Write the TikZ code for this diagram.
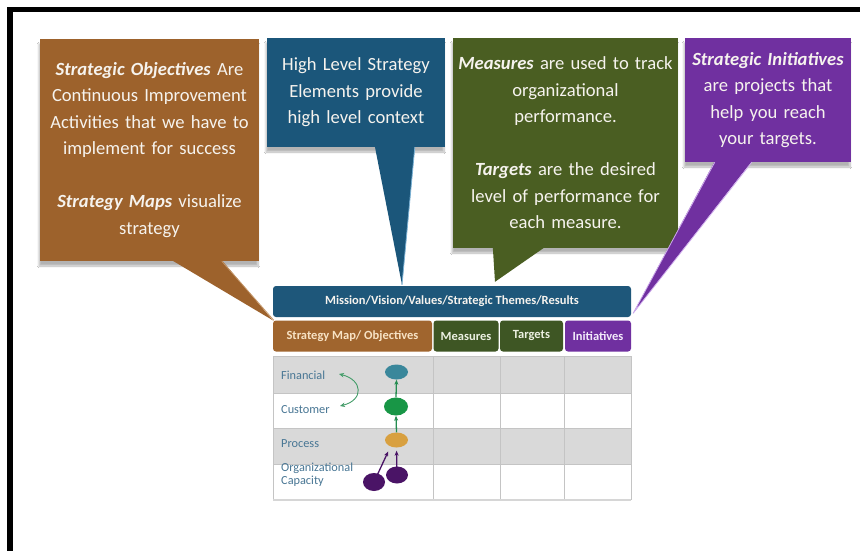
\documentclass[tikz,border=0pt]{standalone}
\usepackage{fontspec}
\setmainfont{Carlito}
\usetikzlibrary{shapes.geometric,arrows.meta,shadows.blur}
\definecolor{cbrown}{RGB}{157,98,44}
\definecolor{cblue}{RGB}{27,86,122}
\definecolor{cgreen}{RGB}{74,94,34}
\definecolor{cpurple}{RGB}{112,48,160}
\definecolor{hbrown}{RGB}{160,101,46}
\definecolor{hgreen}{RGB}{62,86,36}
\definecolor{hblue}{RGB}{30,87,122}
\definecolor{boxtext}{RGB}{246,243,238}
\definecolor{rowgray}{RGB}{217,217,217}
\definecolor{gridc}{RGB}{196,196,196}
\definecolor{labc}{RGB}{72,118,148}
\definecolor{efin}{RGB}{58,135,155}
\definecolor{ecust}{RGB}{24,150,70}
\definecolor{eproc}{RGB}{216,160,64}
\definecolor{eorg}{RGB}{74,20,102}
\definecolor{agreen}{RGB}{36,140,80}
\tikzset{
  callout/.style={inner sep=0pt, align=center, text=boxtext,
    font=\fontsize{18.6}{26.5}\selectfont,
    blur shadow={shadow xshift=-1pt, shadow yshift=-5pt, shadow blur steps=8, shadow opacity=30}},
  tailshape/.style={line width=0.8pt, line join=round},
  hcell/.style={rounded corners=3pt, inner sep=0pt, minimum height=31pt,
    font=\fontsize{12.5}{13}\selectfont\bfseries},
  rowlab/.style={anchor=west, inner sep=0pt, text=labc, font=\fontsize{12.3}{12.8}\selectfont, align=left},
  ell/.style={ellipse, inner sep=0pt},
  garrow/.style={draw=agreen, line width=1.3pt, -{Stealth[length=5pt,width=4pt]}},
  parrow/.style={draw=eorg, line width=1.3pt, -{Stealth[length=5pt,width=4pt]}}
}
\begin{document}
\begin{tikzpicture}[x=1pt,y=-1pt]
\useasboundingbox (0,0) rectangle (860,551);
\fill[white] (0,0) rectangle (860,551);
% frame
\fill[black] (7,7) rectangle (860,12.5);
\fill[black] (7,7) rectangle (13,551);

% table body
\fill[rowgray] (273,356) rectangle (631,393);
\fill[white] (273,393) rectangle (631,428);
\fill[rowgray] (273,428) rectangle (631,464);
\fill[white] (273,464) rectangle (631,499);
\draw[gridc, line width=0.8pt] (273,356) rectangle (631,499);
\foreach \yy in {393,428,464} \draw[gridc, line width=0.8pt] (273,\yy) -- (631,\yy);
\foreach \xx in {433,500,564} \draw[gridc, line width=0.8pt] (\xx,356) -- (\xx,499);
\draw[gridc!70, line width=1.5pt] (273,500) -- (631,500);

% header bar and cells
\node[hcell, fill=hblue, minimum width=358pt, minimum height=31pt, text=boxtext] (mission) at (452,301.5) {Mission/Vision/Values/Strategic Themes/Results};
\node[hcell, fill=hbrown, minimum width=159pt, text={rgb,255:red,247;green,226;blue,196}] (hsm) at (352.5,336) {Strategy Map/ Objectives};
\node[hcell, fill=hgreen, minimum width=65pt, text={rgb,255:red,236;green,240;blue,226}] (hmeas) at (466,336) {Measures};
\node[hcell, fill=hgreen, minimum width=63pt, text={rgb,255:red,236;green,240;blue,226}] (htarg) at (531.5,336) {Targets};
\node[hcell, fill=cpurple, minimum width=66pt, text={rgb,255:red,242;green,234;blue,250}] (hinit) at (598,336) {Initiatives};

% row labels
\node[rowlab] (tfin) at (281,375) {Financial};
\node[rowlab] (tcust) at (281,410) {Customer};
\node[rowlab] (tproc) at (281,443.5) {Process};
\node[rowlab] (torg) at (281,475) {Organizational\\Capacity};

% strategy map ellipses
\node[ell, fill=efin, minimum width=23pt, minimum height=15pt] (fin) at (396.5,372) {};
\node[ell, fill=ecust, minimum width=24pt, minimum height=18pt] (cust) at (396,406.5) {};
\node[ell, fill=eproc, minimum width=23pt, minimum height=15pt] (proc) at (396.5,440) {};
\node[ell, fill=eorg, minimum width=22pt, minimum height=17pt] (oc1) at (397,475) {};
\node[ell, fill=eorg, minimum width=22pt, minimum height=18pt] (oc2) at (374,482) {};

\draw[garrow] (cust.north) -- (fin.south);
\draw[garrow] (proc.north) -- (cust.south);
\draw[parrow, shorten >=3pt] (oc2.center) -- ([xshift=-7pt,yshift=-1pt]proc.south);
\draw[parrow, shorten >=3pt] (oc1.center) -- (proc.south);

\coordinate (ca) at (339,374);
\coordinate (cb) at (340,406);
\draw[draw=agreen!85, line width=0.9pt, {Stealth[length=5pt,width=4.5pt]}-{Stealth[length=5pt,width=4.5pt]}]
  (ca) .. controls +(24,6) and +(24,-6) .. (cb);

% callout boxes
\node[callout, fill=cbrown, minimum width=219pt, minimum height=222pt, text width=219pt] (bbox) at (149.5,150)
  {\textbf{\textit{Strategic Objectives}} Are\\Continuous Improvement\\Activities that we have to\\implement for success\\[26.5pt]\textbf{\textit{Strategy Maps}} visualize\\strategy};
\node[callout, fill=cblue, minimum width=178pt, minimum height=109pt, text width=178pt] (ubox) at (356,92.5)
  {High Level Strategy\\Elements provide\\high level context};
\node[callout, fill=cgreen, minimum width=225pt, minimum height=210pt, text width=225pt] (gbox) at (565.5,143)
  {\textbf{\textit{Measures}} are used to track\\organizational\\performance.\\[26.5pt]\textbf{\textit{Targets}} are the desired\\level of performance for\\each measure.};
\node[callout, fill=cpurple, minimum width=166pt, minimum height=124pt, text width=166pt] (pbox) at (768,100)
  {\textbf{\textit{Strategic Initiatives}}\\are projects that\\help you reach\\your targets.};

% callout tails
\fill[cbrown] ([xshift=132pt,yshift=1pt]bbox.south west) -- (hsm.north west) -- ([xshift=182pt,yshift=1pt]bbox.south west) -- cycle;
\draw[tailshape, draw={rgb,255:red,196;green,150;blue,105}] ([xshift=182pt]bbox.south west) -- ([xshift=1pt]hsm.north west);
\fill[cblue] ([xshift=108pt,yshift=1pt]ubox.south west) -- ([xshift=-50pt,yshift=1pt]mission.north) -- ([xshift=148pt,yshift=1pt]ubox.south west) -- cycle;
\draw[tailshape, draw={rgb,255:red,120;green,175;blue,210}] ([xshift=148pt]ubox.south west) -- ([xshift=-50pt,yshift=1pt]mission.north);
\fill[cgreen] ([xshift=40pt,yshift=1pt]gbox.south west) -- ([xshift=43pt,yshift=4pt]mission.north) -- ([xshift=92pt,yshift=1pt]gbox.south west) -- cycle;
\fill[cpurple] ([xshift=30pt,yshift=1pt]pbox.south west) -- ([xshift=2pt,yshift=4pt]mission.south east) -- ([xshift=67pt,yshift=1pt]pbox.south west) -- cycle;
\draw[tailshape, draw={rgb,255:red,205;green,170;blue,235}] ([xshift=30pt]pbox.south west) -- ([xshift=2pt,yshift=4pt]mission.south east) -- ([xshift=67pt]pbox.south west);
\end{tikzpicture}
\end{document}
